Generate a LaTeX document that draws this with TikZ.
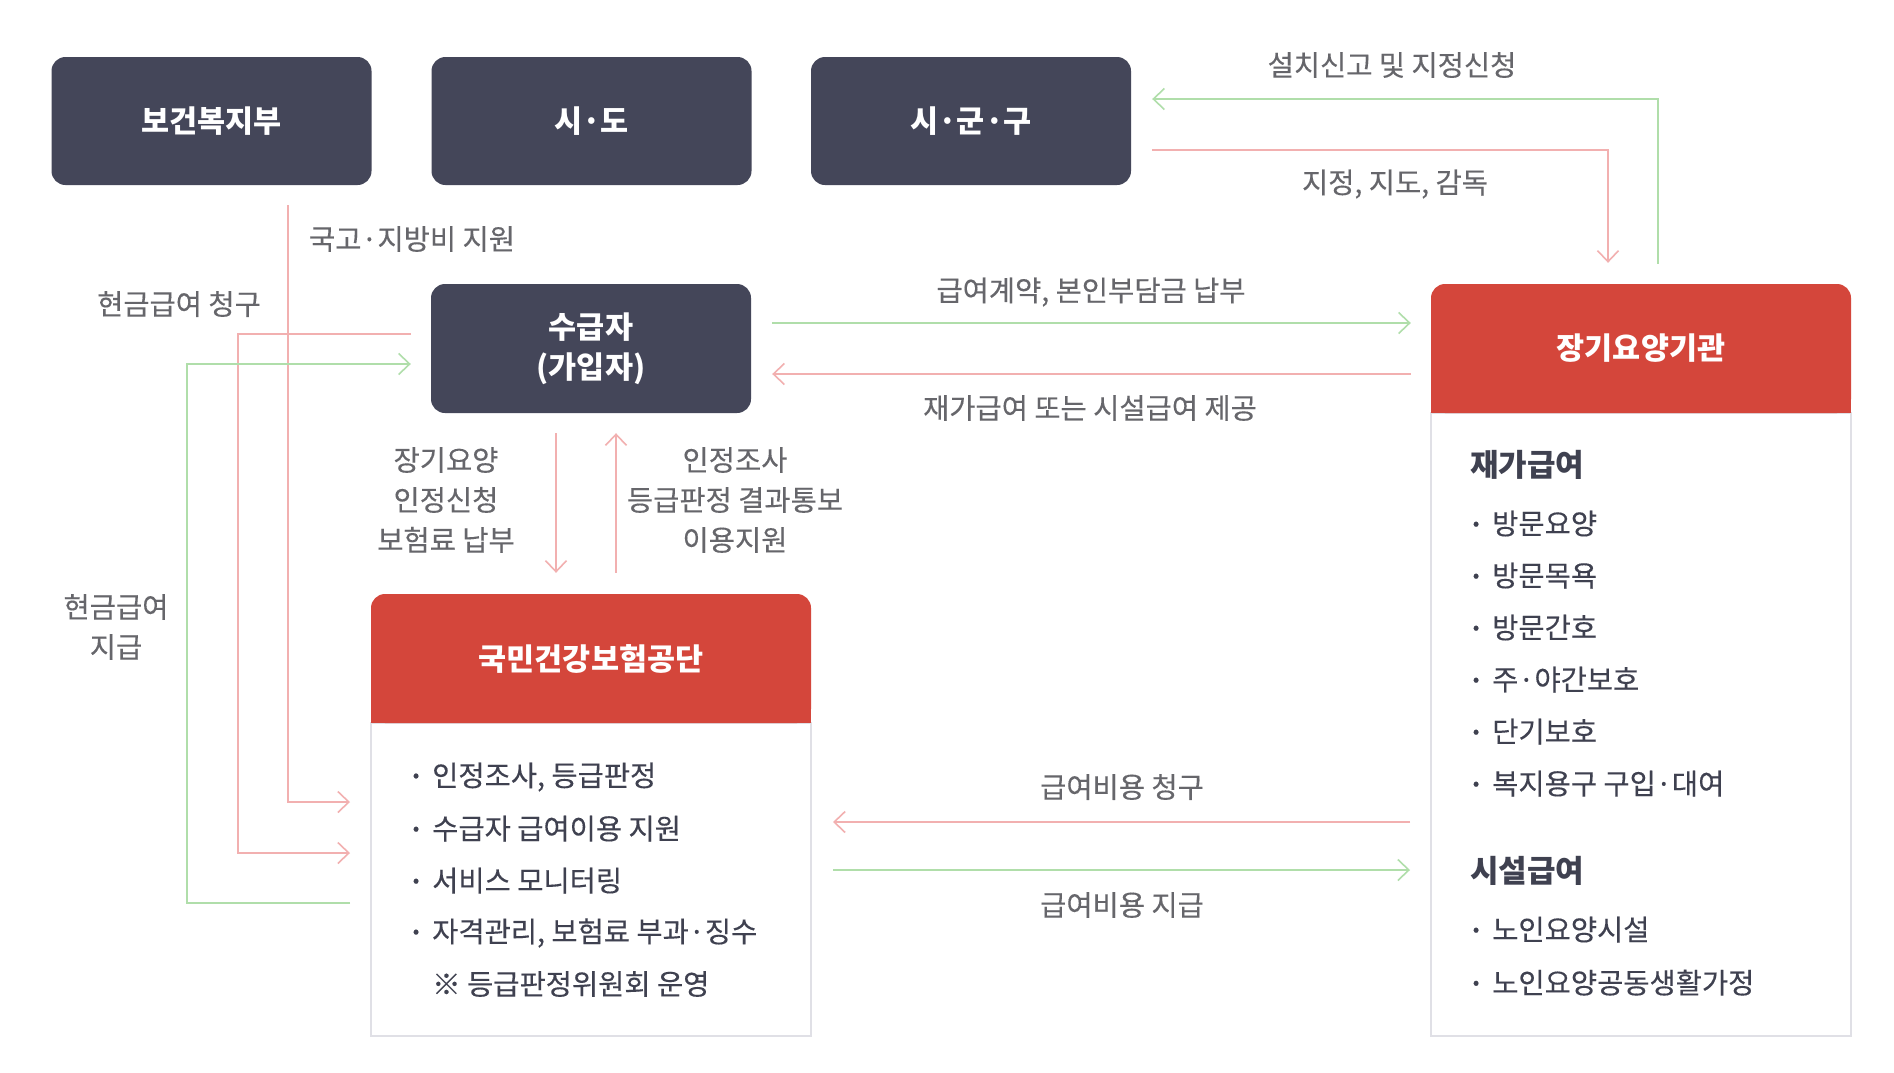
\documentclass[tikz,border=0pt]{standalone}
\usepackage{fontspec}
\setmainfont{Noto Sans CJK KR}
\newfontfamily\medfont{Noto Sans CJK KR}[FakeBold=0.25]
\usetikzlibrary{arrows.meta,calc}
\definecolor{boxdark}{HTML}{444659}
\definecolor{hdrred}{HTML}{D4463B}
\definecolor{lnred}{HTML}{F2B0B0}
\definecolor{lngreen}{HTML}{B0DEAA}
\definecolor{lbl}{HTML}{66666B}
\definecolor{txt}{HTML}{3F4150}
\definecolor{bord}{HTML}{E0E0E6}
\newcommand{\bul}{\llap{\makebox[32pt]{\raisebox{-3pt}{\fontsize{36}{36}\selectfont ·}}}}
\begin{document}
\begin{tikzpicture}[x=1pt,y=-1pt,
  darkbox/.style={fill=boxdark, rounded corners=14pt, text=white,
    font=\fontsize{30.5}{40}\selectfont\bfseries, align=center,
    minimum width=320pt, minimum height=128pt, inner sep=0pt},
  hdr/.style={fill=hdrred, rounded corners=14pt, text=white,
    font=\fontsize{30.5}{32}\selectfont\bfseries, inner sep=0pt},
  bodybox/.style={draw=bord, line width=2pt, fill=white, inner sep=0pt},
  lab/.style={text=lbl, font=\medfont\fontsize{28.5}{40}\selectfont, align=center, inner sep=0pt},
  item/.style={text=txt, font=\medfont\fontsize{28.5}{30}\selectfont, anchor=west, inner sep=0pt},
  sub/.style={text=txt, font=\fontsize{31}{32}\selectfont\bfseries, anchor=west, inner sep=0pt},
  tip/.style={-{Straight Barb[length=11pt,width=21pt,line width=1.6pt]}},
  rline/.style={draw=lnred, line width=2pt, tip},
  gline/.style={draw=lngreen, line width=2pt, tip}]
\useasboundingbox (0,0) rectangle (1894,1072);
\fill[white] (0,0) rectangle (1894,1072);

% top boxes
\node[darkbox] (mohw) at (211.5,121) {보건복지부};
\node[darkbox] (sido) at (591.5,121) {시·도};
\node[darkbox] (sgg) at (971,121) {시·군·구};
\node[darkbox, minimum height=129pt] (recip) at (591,348.5) {수급자\\(가입자)};

% NHIS
\node[bodybox, minimum width=440pt, minimum height=313pt] (nhisbody) at (591,879.5) {};
\node[hdr, minimum width=440pt, minimum height=129pt] (nhis) at (591,658.5) {국민건강보험공단};
\fill[hdrred] ([yshift=20pt]nhis.south west) rectangle (nhis.south east);

% LTC institution
\node[bodybox, minimum width=420pt, minimum height=623pt] (ltcbody) at (1641,724.5) {};
\node[hdr, minimum width=420pt, minimum height=129pt] (ltc) at (1641,348.5) {장기요양기관};
\fill[hdrred] ([yshift=20pt]ltc.south west) rectangle (ltc.south east);

% NHIS items
\node[item] (n1) at (432,777) {\bul 인정조사, 등급판정};
\node[item] (n2) at (432,829) {\bul 수급자 급여이용 지원};
\node[item] (n3) at (432,881) {\bul 서비스 모니터링};
\node[item] (n4) at (432,933) {\bul 자격관리, 보험료 부과·징수};
\node[item] (n5) at (432,984) {※ 등급판정위원회 운영};

% LTC items
\node[sub] (s1) at (1470,465) {재가급여};
\node[item] (l1) at (1492,524) {\bul 방문요양};
\node[item] (l2) at (1492,576) {\bul 방문목욕};
\node[item] (l3) at (1492,628) {\bul 방문간호};
\node[item] (l4) at (1492,680) {\bul 주·야간보호};
\node[item] (l5) at (1492,732) {\bul 단기보호};
\node[item] (l6) at (1492,784) {\bul 복지용구 구입·대여};
\node[sub] (s2) at (1470,871) {시설급여};
\node[item] (l7) at (1492,930) {\bul 노인요양시설};
\node[item] (l8) at (1492,983) {\bul 노인요양공동생활가정};

% connectors: 시군구 <-> 장기요양기관
\draw[gline] ([xshift=17pt,yshift=20pt]ltc.north) |- ([xshift=21pt,yshift=22pt]sgg.east);
\draw[rline] ([xshift=21pt,yshift=-29pt]sgg.east) -| ([xshift=-33pt,yshift=21pt]ltc.north);
\node[lab] (lb1) at (1392,65) {설치신고 및 지정신청};
\node[lab] (lb2) at (1395,184) {지정, 지도, 감독};

% 보건복지부 -> 공단
\draw[rline] ([xshift=76.5pt,yshift=-20pt]mohw.south) |- ([xshift=-20pt,yshift=77.5pt]nhisbody.west);
\node[lab] (lb3) at (412,239) {국고·지방비 지원};

% 수급자 -> 공단 (현금급여 청구)
\draw[rline] ([xshift=-20pt,yshift=14.5pt]recip.west) -- ++(-173,0) |- ([xshift=-20pt,yshift=26.5pt]nhisbody.west);
\node[lab] (lb4) at (179,304) {현금급여 청구};

% 공단 -> 수급자 (현금급여 지급)
\draw[gline] ([xshift=-20pt,yshift=-23.5pt]nhisbody.west) -- ++(-163,0) |- ([xshift=-20pt,yshift=-15.5pt]recip.west);
\node[lab] (lb5) at (116,627) {현금급여\\지급};

% 수급자 <-> 공단
\draw[rline] ([xshift=-35pt,yshift=-20pt]recip.south) -- ([xshift=-35pt,yshift=21pt]nhis.north);
\draw[rline] ([xshift=25pt,yshift=21pt]nhis.north) -- ([xshift=25pt,yshift=-20pt]recip.south);
\node[lab] (lb6) at (446,500) {장기요양\\인정신청\\보험료 납부};
\node[lab] (lb7) at (735,500) {인정조사\\등급판정 결과통보\\이용지원};

% 수급자 <-> 장기요양기관
\draw[gline] ([xshift=21pt,yshift=25.5pt]recip.east) -- ([xshift=-20pt,yshift=25.5pt]ltc.west);
\draw[rline] ([xshift=-20pt,yshift=-25.5pt]ltc.west) -- ([xshift=21pt,yshift=-25.5pt]recip.east);
\node[lab] (lb8) at (1091,292) {급여계약, 본인부담금 납부};
\node[lab] (lb9) at (1090,408) {재가급여 또는 시설급여 제공};

% 공단 <-> 장기요양기관
\draw[rline] ([xshift=-20pt,yshift=-97.5pt]ltcbody.west) -- ([xshift=21pt,yshift=57.5pt]nhisbody.east);
\draw[gline] ([xshift=21pt,yshift=9.5pt]nhisbody.east) -- ([xshift=-20pt,yshift=-145.5pt]ltcbody.west);
\node[lab] (lb10) at (1122,787) {급여비용 청구};
\node[lab] (lb11) at (1122,905) {급여비용 지급};
\end{tikzpicture}
\end{document}
